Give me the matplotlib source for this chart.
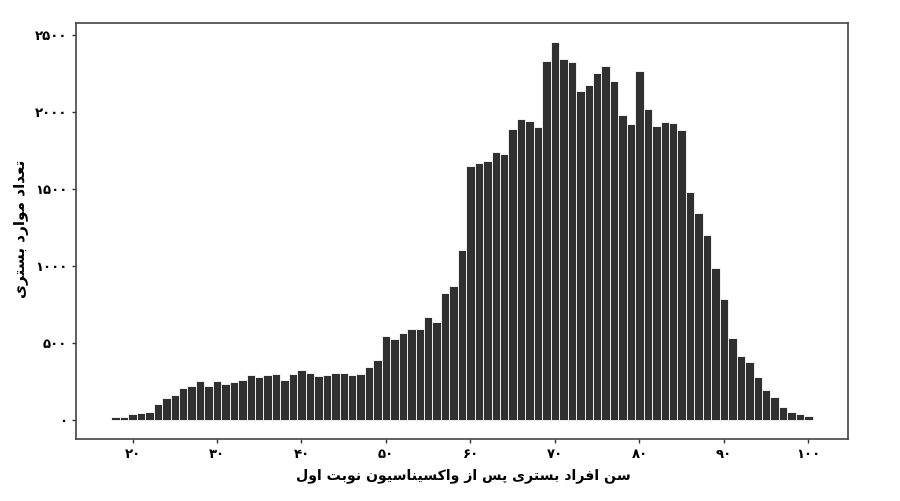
import matplotlib

matplotlib.use("Agg")
import matplotlib.pyplot as plt
import numpy as np

# hospitalised cases per year of age after the first vaccine dose
ages = np.arange(18, 101)
counts = [
    22, 22, 39, 45, 54, 102, 145, 162, 205, 221,
    255, 218, 255, 231, 244, 260, 290, 281, 290, 298,
    260, 301, 322, 307, 285, 292, 307, 303, 292, 296,
    344, 387, 545, 523, 567, 593, 593, 670, 636, 822,
    872, 1103, 1648, 1665, 1678, 1737, 1724, 1886, 1955, 1940,
    1899, 2332, 2451, 2340, 2323, 2137, 2174, 2252, 2295, 2200,
    1977, 1918, 2265, 2020, 1908, 1934, 1929, 1880, 1482, 1341,
    1200, 984, 787, 530, 417, 378, 277, 195, 147, 87,
    50, 37, 26,
]
x_ticks = [20, 30, 40, 50, 60, 70, 80, 90, 100]
y_ticks = [0, 500, 1000, 1500, 2000, 2500]

X_LABEL = "سن افراد بستری پس از واکسیناسیون نوبت اول"
Y_LABEL = "تعداد موارد بستری"

# matplotlib does no Arabic shaping, so pick presentation forms by hand
# (isolated, final, initial, medial)
FORMS = {
    "ا": "\uFE8D\uFE8E",
    "د": "\uFEA9\uFEAA",
    "ر": "\uFEAD\uFEAE",
    "ز": "\uFEAF\uFEB0",
    "و": "\uFEED\uFEEE",
    "ب": "\uFE8F\uFE90\uFE91\uFE92",
    "ت": "\uFE95\uFE96\uFE97\uFE98",
    "س": "\uFEB1\uFEB2\uFEB3\uFEB4",
    "ع": "\uFEC9\uFECA\uFECB\uFECC",
    "ف": "\uFED1\uFED2\uFED3\uFED4",
    "ل": "\uFEDD\uFEDE\uFEDF\uFEE0",
    "م": "\uFEE1\uFEE2\uFEE3\uFEE4",
    "ن": "\uFEE5\uFEE6\uFEE7\uFEE8",
    "پ": "\uFB56\uFB57\uFB58\uFB59",
    "ک": "\uFB8E\uFB8F\uFB90\uFB91",
    "ی": "\uFBFC\uFBFD\uFBFE\uFBFF",
}
RIGHT_ONLY = set("ادرزو")
FA_DIGITS = str.maketrans("0123456789", "۰۱۲۳۴۵۶۷۸۹")


def shape(text):
    out = []
    for i, ch in enumerate(text):
        if ch not in FORMS:
            out.append(ch)
            continue
        prev = text[i - 1] if i > 0 else ""
        nxt = text[i + 1] if i + 1 < len(text) else ""
        joins_prev = prev in FORMS and prev not in RIGHT_ONLY
        joins_next = nxt in FORMS and ch not in RIGHT_ONLY
        forms = FORMS[ch]
        if joins_prev and joins_next:
            out.append(forms[3])
        elif joins_prev:
            out.append(forms[1])
        elif joins_next:
            out.append(forms[2])
        else:
            out.append(forms[0])
    return "".join(reversed(out))


def fa(n):
    return str(n).translate(FA_DIGITS)


plt.rcParams["font.family"] = ["DejaVu Sans"]
plt.rcParams["font.weight"] = "bold"

fig = plt.figure(figsize=(9, 5.01), dpi=100)
ax = fig.add_axes([0.0848, 0.1238, 0.8571, 0.8297])

ax.bar(ages, counts, width=1.0, color="#303030", edgecolor="white", linewidth=0.6)

span = (ages[-1] + 0.5) - (ages[0] - 0.5)
ax.set_xlim(ages[0] - 0.5 - 0.05 * span, ages[-1] + 0.5 + 0.05 * span)
ax.set_ylim(-0.05 * max(counts), 1.05 * max(counts))

ax.set_xticks(x_ticks)
ax.set_xticklabels([fa(v) for v in x_ticks], fontsize=9.5, fontweight="bold")
ax.set_yticks(y_ticks)
ax.set_yticklabels([fa(v) for v in y_ticks], fontsize=9.5, fontweight="bold")
ax.tick_params(length=3, width=1, color="#333333", pad=3.5)

fig.text(0.5144, 1 - 476 / 501, shape(X_LABEL), fontsize=10.2, fontweight="bold",
         ha="center", va="center")
fig.text(22 / 900, 1 - 229 / 501, shape(Y_LABEL), fontsize=11, fontweight="bold",
         ha="center", va="center", rotation=90)

for spine in ax.spines.values():
    spine.set_color("#444444")
    spine.set_linewidth(1.2)

fig.savefig("out.png", dpi=100, facecolor="white")
